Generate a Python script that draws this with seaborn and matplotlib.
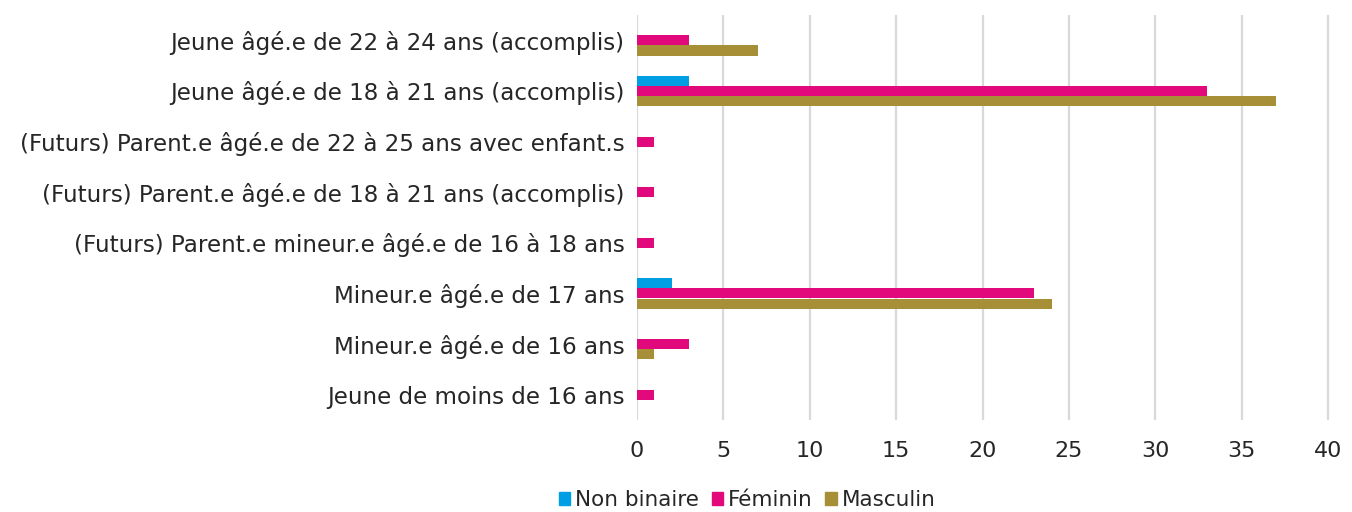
import matplotlib
matplotlib.use("Agg")
import matplotlib.pyplot as plt
import seaborn as sns
import pandas as pd
from matplotlib.patches import Patch

categories = [
    "Jeune âgé.e de 22 à 24 ans (accomplis)",
    "Jeune âgé.e de 18 à 21 ans (accomplis)",
    "(Futurs) Parent.e âgé.e de 22 à 25 ans avec enfant.s",
    "(Futurs) Parent.e âgé.e de 18 à 21 ans (accomplis)",
    "(Futurs) Parent.e mineur.e âgé.e de 16 à 18 ans",
    "Mineur.e âgé.e de 17 ans",
    "Mineur.e âgé.e de 16 ans",
    "Jeune de moins de 16 ans",
]
series = ["Non binaire", "Féminin", "Masculin"]
non_binaire = [0, 3, 0, 0, 0, 2, 0, 0]
feminin = [3, 33, 1, 1, 1, 23, 3, 1]
masculin = [7, 37, 0, 0, 0, 24, 1, 0]
colors = ["#009fe3", "#e2097c", "#a68f37"]
xticks = [0, 5, 10, 15, 20, 25, 30, 35, 40]

rows = []
for name, vals in zip(series, [non_binaire, feminin, masculin]):
    for c, v in zip(categories, vals):
        rows.append({"cat": c, "serie": name, "val": v})
df = pd.DataFrame(rows)

sns.set_theme(style="white")
plt.rcParams["font.family"] = ["DejaVu Sans"]

fig = plt.figure(figsize=(13.52, 5.12), dpi=100)
ax = fig.add_axes([637 / 1352, 1 - 420 / 512, (1330 - 637) / 1352, (420 - 15) / 512])

sns.barplot(data=df, y="cat", x="val", hue="serie", hue_order=series,
            order=categories, palette=colors, saturation=1, orient="h", width=0.6,
            linewidth=0, errorbar=None, legend=False, ax=ax, zorder=3)

ax.set_xlim(0, 40.1)
ax.set_xticks(xticks)
ax.set_xticklabels([str(t) for t in xticks], fontsize=16, color="#262626")
ax.tick_params(axis="x", length=0, pad=15)
ax.tick_params(axis="y", length=0, pad=9, labelsize=16.6, labelcolor="#262626")
ax.set_xlabel("")
ax.set_ylabel("")
for s in ax.spines.values():
    s.set_visible(False)
ax.grid(axis="x", color="#d9d9d9", linewidth=1.6, zorder=0)
ax.set_axisbelow(True)

handles = [Patch(color=c, label=s) for c, s in zip(colors, series)]
fig.legend(handles=handles, loc="center", bbox_to_anchor=(747 / 1352, 1 - 500 / 512),
           ncol=3, frameon=False, fontsize=15.5, handlelength=0.55, handleheight=0.55,
           handletextpad=0.2, columnspacing=0.6, labelcolor="#262626")

fig.savefig("out.png", dpi=100)
